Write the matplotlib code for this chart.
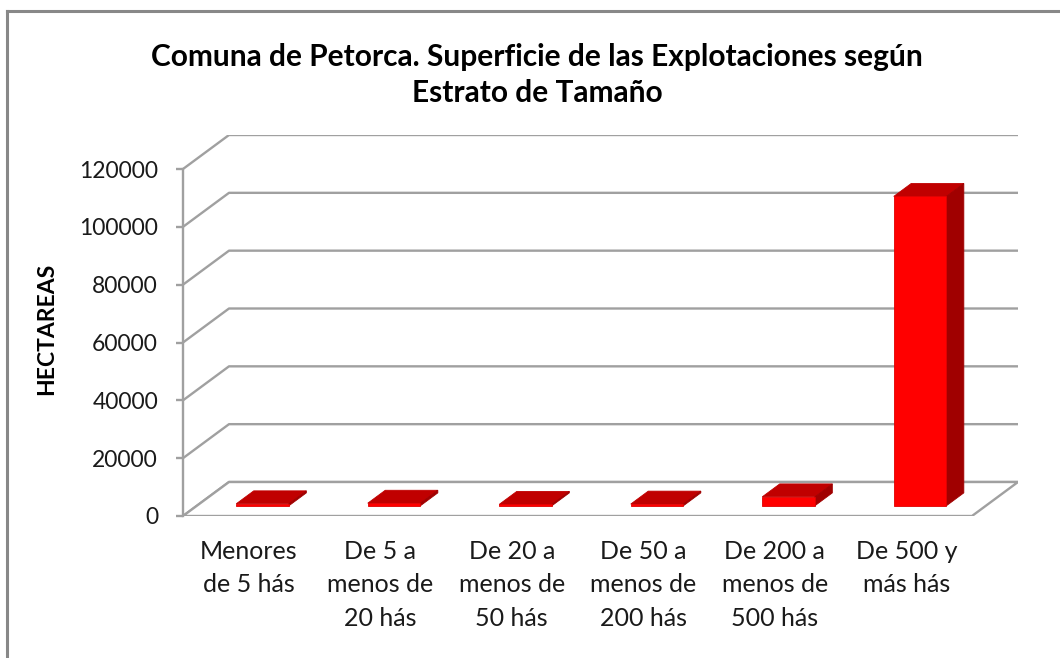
import matplotlib
matplotlib.use("Agg")
import matplotlib.pyplot as plt
from matplotlib.patches import Polygon
from matplotlib.lines import Line2D
import numpy as np

plt.rcParams['font.family'] = ['Lato', 'DejaVu Sans']

title = "Comuna de Petorca. Superficie de las Explotaciones según\nEstrato de Tamaño"
categories = ["Menores\nde 5 hás", "De 5 a\nmenos de\n20 hás", "De 20 a\nmenos de\n50 hás",
              "De 50 a\nmenos de\n200 hás", "De 200 a\nmenos de\n500 hás", "De 500 y\nmás hás"]
values = [700, 900, 500, 600, 3100, 107000]
yticks = [0, 20000, 40000, 60000, 80000, 100000, 120000]
ylabel = "HECTAREAS"

W, H = 1060, 658
fig = plt.figure(figsize=(W / 100, H / 100), dpi=100)

# geometry (pixels)
x0, y0 = 183, 516            # front-left origin
cat_px = 131.5               # pixel width per category
ypx = 347 / 120000           # pixels per unit
DXp, DYp = 46, 34            # full depth offset in pixels
n = len(categories)
dxu = DXp / cat_px
dyu = DYp / ypx
ymax = yticks[-1]

ax_w = cat_px * (n + dxu)
ax_h = ymax * ypx + DYp
ax = fig.add_axes([x0 / W, (H - y0) / H, ax_w / W, ax_h / H])
ax.set_xlim(0, n + dxu)
ax.set_ylim(0, ymax + dyu)
ax.patch.set_alpha(0)

grid_c = "#a0a0a0"
# back wall gridlines
for v in yticks:
    ax.plot([0, dxu, n + dxu], [v, v + dyu, v + dyu], color=grid_c, lw=1.7,
            solid_capstyle='butt', zorder=1)
# floor
floor = Polygon([(0, 0), (n, 0), (n + dxu, dyu), (dxu, dyu)], closed=True,
                facecolor="white", edgecolor=grid_c, lw=1.7, zorder=1.5)
ax.add_patch(floor)

# bars
d0, d1 = 0.30, 0.68
bw = 0.40
centers = np.arange(n) + 0.5
front_x = centers + d0 * dxu
bottom = d0 * dyu
ax.bar(front_x, values, width=bw, bottom=bottom, color="#ff0000",
       edgecolor="#e00000", lw=0.6, zorder=3)
dd = d1 - d0
for fx, v in zip(front_x, values):
    xl, xr = fx - bw / 2, fx + bw / 2
    yb, yt = bottom, bottom + v
    top = Polygon([(xl, yt), (xr, yt), (xr + dd * dxu, yt + dd * dyu), (xl + dd * dxu, yt + dd * dyu)],
                  closed=True, facecolor="#c00000", edgecolor="#c00000", lw=0.6, zorder=2.5)
    side = Polygon([(xr, yb), (xr, yt), (xr + dd * dxu, yt + dd * dyu), (xr + dd * dxu, yb + dd * dyu)],
                   closed=True, facecolor="#a00000", edgecolor="#a00000", lw=0.6, zorder=2.5)
    ax.add_patch(top)
    ax.add_patch(side)

# axes styling
for s in ["top", "right", "bottom"]:
    ax.spines[s].set_visible(False)
ax.spines["left"].set_bounds(0, ymax)
ax.spines["left"].set_color(grid_c)
ax.spines["left"].set_linewidth(1.7)
ax.set_yticks(yticks)
ax.set_yticklabels([str(v) for v in yticks])
ax.tick_params(axis='y', length=5, width=1.7, color=grid_c, pad=13, labelsize=16.5,
               labelcolor="#1a1a1a")
ax.set_xticks(centers)
ax.set_xticklabels(categories, linespacing=1.55)
ax.tick_params(axis='x', length=0, pad=17, labelsize=18, labelcolor="#1a1a1a")
for t in ax.get_xticklabels():
    t.set_verticalalignment('top')

# titles
fig.text(537 / W, 1 - 75 / H, title, ha='center', va='center', fontsize=21.5,
         fontweight='bold', linespacing=1.38, color="#000000")
fig.text(47 / W, 1 - 329 / H, ylabel, rotation=90, ha='center', va='center',
         fontsize=16.5, fontweight='bold', color="#000000")

# border
fig.add_artist(Line2D([7 / W, 7 / W], [0, 1 - 11 / H], transform=fig.transFigure,
                      color="#888888", lw=2.2))
fig.add_artist(Line2D([7 / W, 1], [1 - 11 / H, 1 - 11 / H], transform=fig.transFigure,
                      color="#888888", lw=2.2))

fig.savefig("out.png", dpi=100)
